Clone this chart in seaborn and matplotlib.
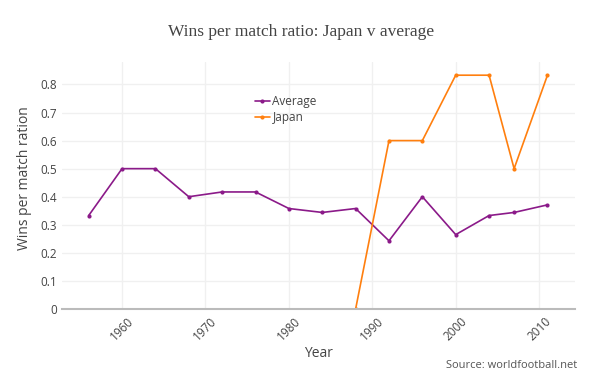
import matplotlib
matplotlib.use("Agg")
import matplotlib.pyplot as plt
import pandas as pd
import seaborn as sns

avg_years = [1956, 1960, 1964, 1968, 1972, 1976, 1980, 1984, 1988, 1992, 1996, 2000, 2004, 2007, 2011]
avg_ratio = [0.333, 0.5, 0.5, 0.4, 0.417, 0.417, 0.358, 0.344, 0.358, 0.243, 0.4, 0.265, 0.333, 0.344, 0.371]
jpn_years = [1988, 1992, 1996, 2000, 2004, 2007, 2011]
jpn_ratio = [0.0, 0.6, 0.6, 0.833, 0.833, 0.5, 0.833]

df = pd.concat([
    pd.DataFrame({"Year": avg_years, "Ratio": avg_ratio, "Series": "Average"}),
    pd.DataFrame({"Year": jpn_years, "Ratio": jpn_ratio, "Series": "Japan"}),
])

sns.set_style("white")
plt.rcParams["font.family"] = ["Open Sans", "DejaVu Sans"]

fig = plt.figure(figsize=(6.03, 3.91), dpi=100)
ax = fig.add_axes([62 / 603, 1 - 309 / 391, 513 / 603, 247 / 391])

palette = {"Average": "#8b1a89", "Japan": "#ff7f0e"}
sns.lineplot(data=df, x="Year", y="Ratio", hue="Series", palette=palette,
             marker="o", markersize=3, markeredgewidth=0, linewidth=1.2, ax=ax)

ax.set_xlim(1952.8, 2014.3)
ax.set_ylim(0, 0.88)
ax.set_xticks([1960, 1970, 1980, 1990, 2000, 2010])
ax.set_yticks([0, 0.1, 0.2, 0.3, 0.4, 0.5, 0.6, 0.7, 0.8])
ax.set_yticklabels(["0", "0.1", "0.2", "0.3", "0.4", "0.5", "0.6", "0.7", "0.8"])
ax.grid(True, color="#f0f0f0", linewidth=1)
for side in ["top", "right", "left"]:
    ax.spines[side].set_visible(False)
ax.spines["bottom"].set_color("#bbbbbb")
ax.spines["bottom"].set_linewidth(1.5)
ax.tick_params(axis="both", colors="#444444", labelsize=8.5, length=0)
ax.tick_params(axis="x", labelrotation=45, pad=4)

ax.set_xlabel("Year", fontsize=10, color="#444444")
ax.xaxis.set_label_coords(0.5, -0.15)
ax.set_ylabel("Wins per match ration", fontsize=10, color="#444444")
ax.yaxis.set_label_coords(-0.058, 0.53)

leg = ax.legend(loc="upper left", bbox_to_anchor=(0.355, 0.91), frameon=False,
                fontsize=8.5, handlelength=1.3, handletextpad=0.2, labelspacing=0.3)
for t in leg.get_texts():
    t.set_color("#444444")

fig.text(0.5, 1 - 32 / 391, "Wins per match ratio: Japan v average", ha="center", va="center",
         fontsize=12.5, color="#444444", family="Liberation Serif")
fig.text(577 / 603, 1 - 365 / 391, "Source: worldfootball.net", ha="right", va="center",
         fontsize=8, color="#555555")

fig.savefig("out.png", dpi=100)
